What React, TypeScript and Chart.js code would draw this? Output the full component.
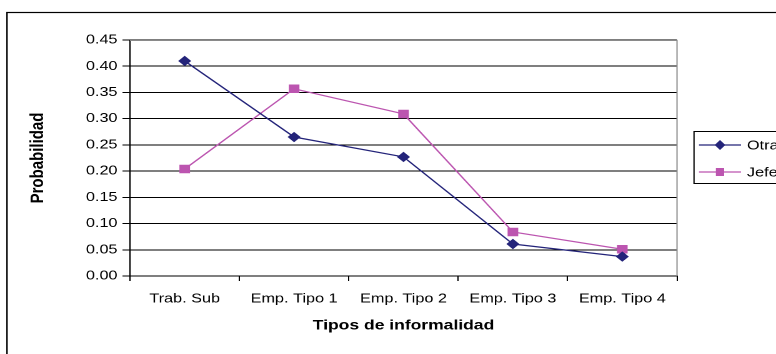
import React, { useEffect, useRef } from "react";
import { Chart, registerables } from "chart.js";

Chart.register(...registerables);

const categories = ["Trab. Sub", "Emp. Tipo 1", "Emp. Tipo 2", "Emp. Tipo 3", "Emp. Tipo 4"];
const otraValues = [0.41, 0.265, 0.227, 0.061, 0.037];
const jefeValues = [0.204, 0.357, 0.309, 0.084, 0.051];
const seriesLabels = ["Otra", "Jefe"];
const yTitle = "Probabilidad";
const xTitle = "Tipos de informalidad";

const NAVY = "#24247A";
const PINK = "#BC55B0";
const FONT = "'Liberation Sans', Arial, sans-serif";

// The reference image is horizontally stretched; draw on a narrower logical canvas and stretch it.
const W = 621;
const H = 354;
const SX = 776 / W;
const lx = (x: number) => x / SX;

const framePlugin = {
  id: "frame",
  beforeDraw(chart: any) {
    const ctx = chart.ctx;
    ctx.save();
    ctx.fillStyle = "#fff";
    ctx.fillRect(0, 0, chart.width, chart.height);
    ctx.strokeStyle = "#000";
    ctx.lineWidth = 1.2;
    ctx.strokeRect(lx(7), 12.5, 900, 500);
    ctx.restore();
  },
  beforeDatasetsDraw(chart: any) {
    const { ctx, chartArea } = chart;
    ctx.save();
    ctx.strokeStyle = "#8a8a8a";
    ctx.lineWidth = 1;
    ctx.beginPath();
    ctx.moveTo(chartArea.left, Math.round(chartArea.top) + 0.5);
    ctx.lineTo(chartArea.right, Math.round(chartArea.top) + 0.5);
    ctx.lineTo(chartArea.right, chartArea.bottom);
    ctx.stroke();
    ctx.restore();
  },
  afterDraw(chart: any) {
    const ctx = chart.ctx;
    ctx.save();
    ctx.strokeStyle = "#000";
    ctx.lineWidth = 1;
    ctx.strokeRect(lx(694), 131.5, 200, 52);
    const ys = [145, 172];
    chart.data.datasets.forEach((ds: any, i: number) => {
      const y = ys[i];
      ctx.strokeStyle = ds.borderColor;
      ctx.lineWidth = 1.25;
      ctx.beginPath();
      ctx.moveTo(lx(699), y);
      ctx.lineTo(lx(741), y);
      ctx.stroke();
      ctx.fillStyle = ds.pointBackgroundColor;
      const cx = lx(720);
      ctx.beginPath();
      if (ds.pointStyle === "rect") {
        ctx.rect(cx - 3.3, y - 4, 6.6, 8);
      } else {
        ctx.moveTo(cx, y - 5);
        ctx.lineTo(cx + 4.3, y);
        ctx.lineTo(cx, y + 5);
        ctx.lineTo(cx - 4.3, y);
        ctx.closePath();
      }
      ctx.fill();
      ctx.fillStyle = "#000";
      ctx.font = `13px ${FONT}`;
      ctx.textBaseline = "middle";
      ctx.textAlign = "left";
      ctx.fillText(ds.label, lx(747), y + 1);
    });
    ctx.restore();
  },
};

export default function App() {
  const ref = useRef<HTMLCanvasElement>(null);
  useEffect(() => {
    if (!ref.current) return;
    const chart = new Chart(ref.current, {
      type: "line",
      data: {
        labels: categories,
        datasets: [
          {
            label: seriesLabels[0],
            data: otraValues,
            borderColor: NAVY,
            backgroundColor: NAVY,
            pointBackgroundColor: NAVY,
            pointBorderColor: NAVY,
            pointStyle: "rectRot",
            pointRadius: 4.5,
            pointBorderWidth: 1,
            borderWidth: 1.25,
            tension: 0,
          },
          {
            label: seriesLabels[1],
            data: jefeValues,
            borderColor: PINK,
            backgroundColor: PINK,
            pointBackgroundColor: PINK,
            pointBorderColor: PINK,
            pointStyle: "rect",
            pointRadius: 5.3,
            pointBorderWidth: 1,
            borderWidth: 1.25,
            tension: 0,
          },
        ],
      },
      options: {
        animation: false,
        responsive: false,
        devicePixelRatio: 2,
        layout: { padding: { left: 0, top: 40, right: W - lx(677), bottom: 0 } },
        plugins: { legend: { display: false }, tooltip: { enabled: false } },
        scales: {
          x: {
            offset: true,
            grid: { offset: true, drawOnChartArea: false, drawTicks: true, tickLength: 5, color: "#000" },
            border: { display: true, color: "#000", width: 1 },
            ticks: { color: "#000", font: { family: FONT, size: 13 }, padding: 10, maxRotation: 0, autoSkip: false },
            title: {
              display: true,
              text: xTitle,
              color: "#000",
              font: { family: FONT, size: 14, weight: "bold" },
              padding: { top: 0, bottom: 20 },
            },
            afterFit: (s: any) => {
              s.height = H - 276;
            },
          },
          y: {
            min: 0,
            max: 0.45,
            ticks: {
              stepSize: 0.05,
              color: "#000",
              font: { family: FONT, size: 13 },
              padding: 4,
              callback: (v: any) => Number(v).toFixed(2),
            },
            grid: { color: "#000", lineWidth: 1, drawTicks: true, tickLength: 6 },
            border: { display: true, color: "#000", width: 1 },
            title: {
              display: true,
              text: yTitle,
              color: "#000",
              font: { family: FONT, size: 15, weight: "bold" },
              padding: { top: lx(38) - 9, bottom: 0 },
            },
            afterFit: (s: any) => {
              s.width = lx(130);
            },
          },
        },
      },
      plugins: [framePlugin],
    });
    return () => chart.destroy();
  }, []);
  return (
    <div style={{ position: "fixed", left: 0, top: 0, width: 776, height: 354, overflow: "hidden", background: "#fff" }}>
      <div style={{ width: W, height: H, transform: `scaleX(${SX})`, transformOrigin: "0 0" }}>
        <canvas ref={ref} width={W} height={H} style={{ display: "block", width: W, height: H }} />
      </div>
    </div>
  );
}
